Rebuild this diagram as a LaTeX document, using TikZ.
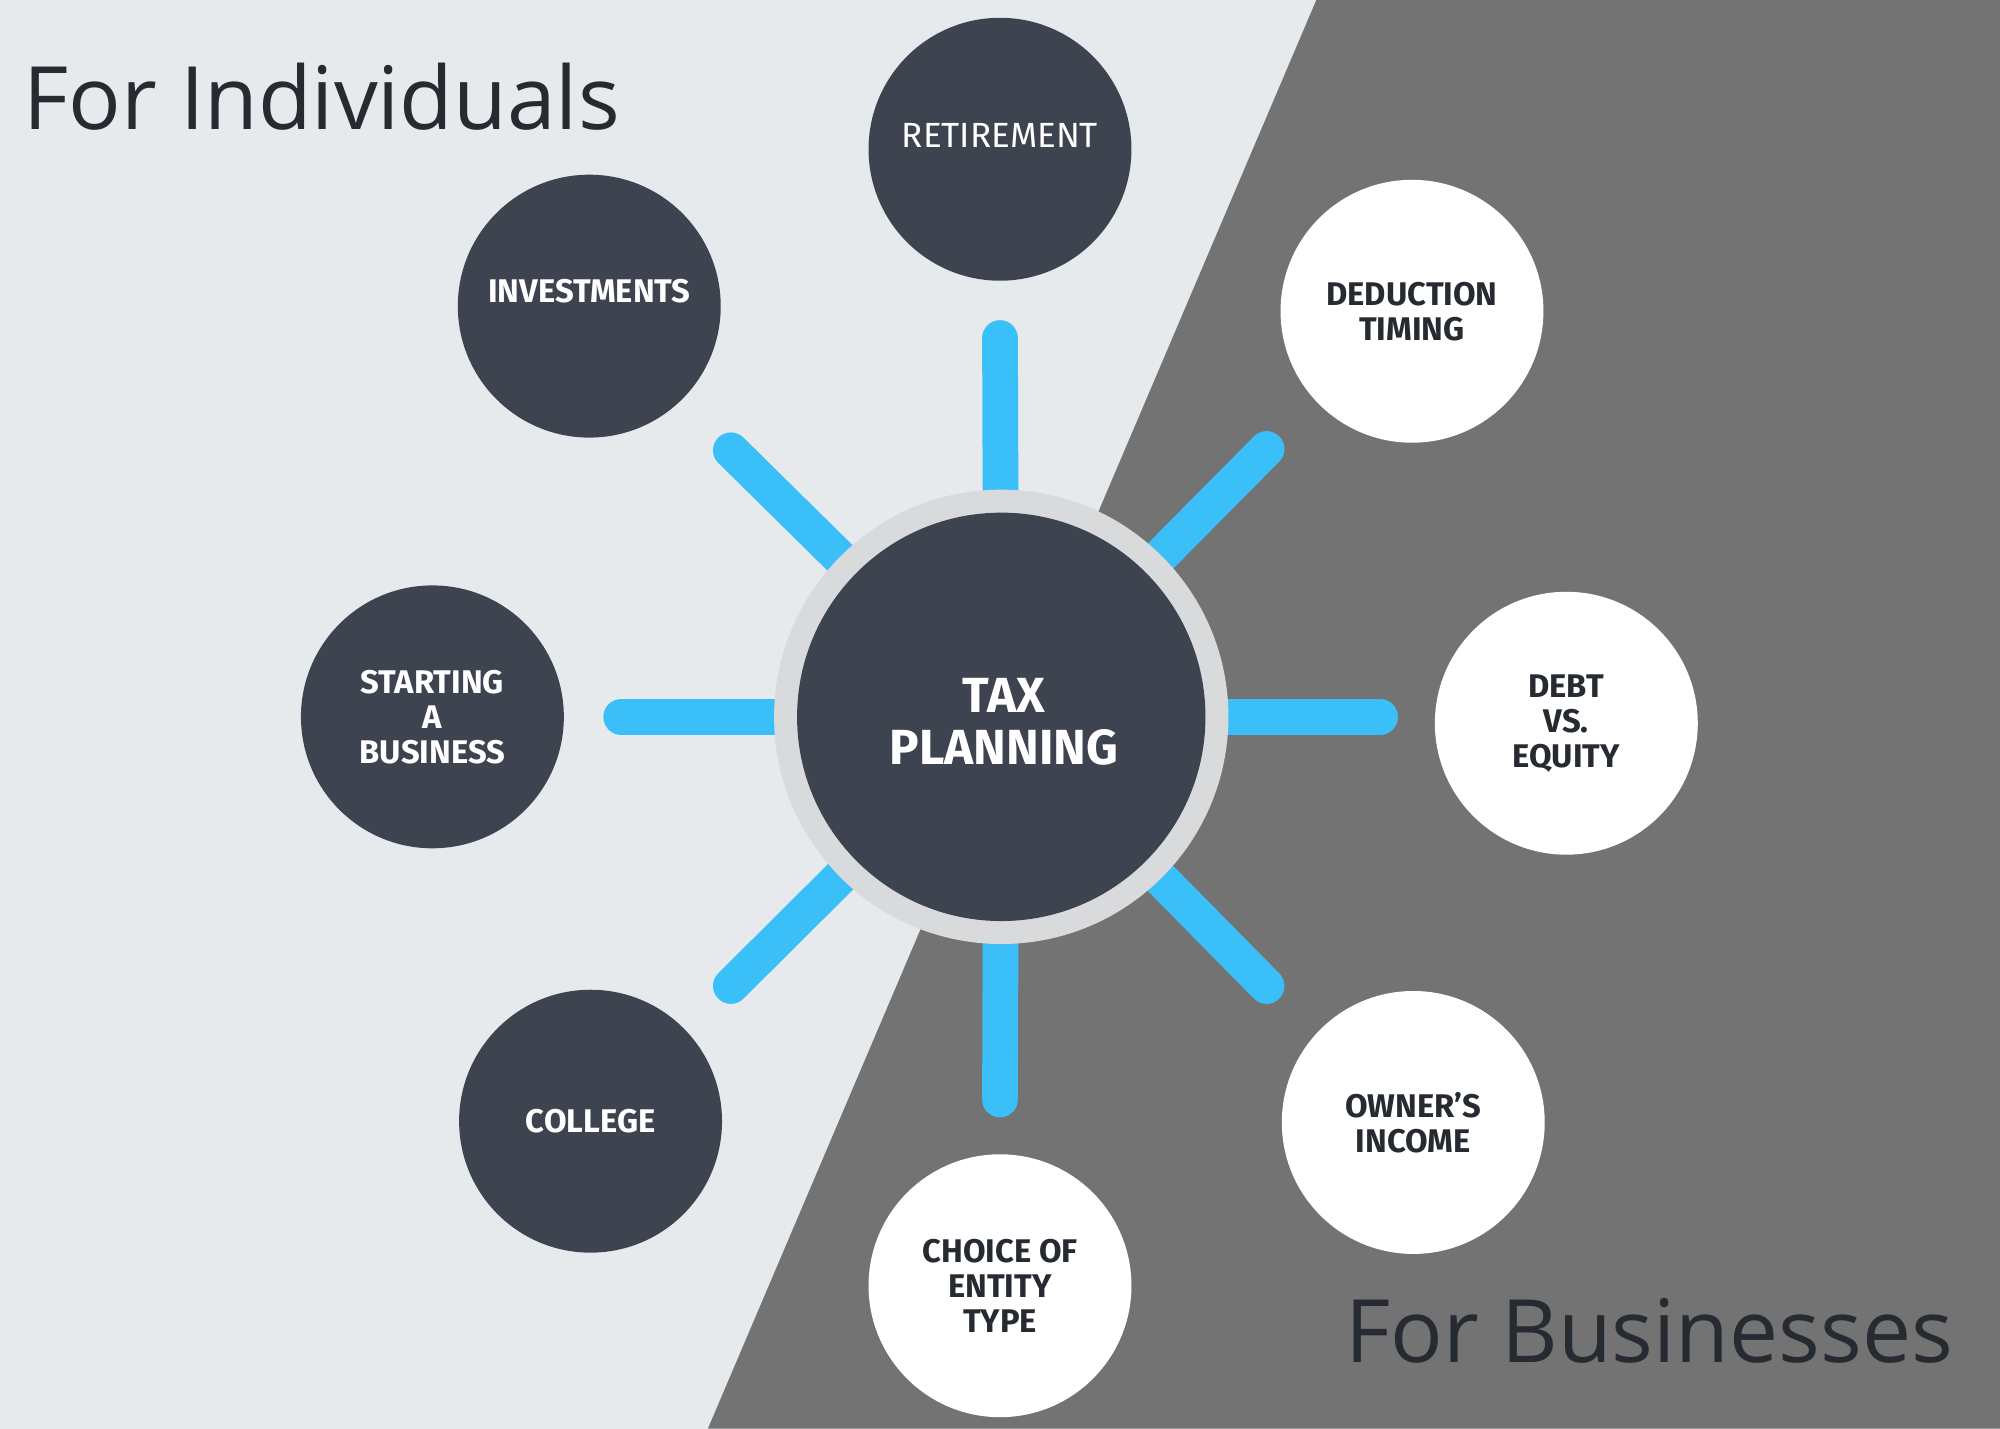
\documentclass[tikz,border=0pt]{standalone}
\usepackage{fontspec}
\setmainfont{Fira Sans}
\newfontfamily\titlefont{Open Sans}
\definecolor{bgl}{HTML}{E6EAED}
\definecolor{bgd}{HTML}{737373}
\definecolor{navy}{HTML}{3E4350}
\definecolor{ttlc}{HTML}{262A31}
\definecolor{ring}{HTML}{D9DADC}
\definecolor{spoke}{HTML}{3BBFF8}
\tikzset{
 sat/.style={circle,minimum size=2.06cm,inner sep=0pt,align=center,font=\bfseries\fontsize{7.3}{7.8}\selectfont},
 darksat/.style={sat,fill=navy,text=white},
 lightsat/.style={sat,fill=white,text=ttlc},
 spk/.style={draw=spoke,line width=0.28cm,line cap=round},
 ttl/.style={anchor=west,text=ttlc,font=\titlefont\fontsize{19.5}{19.5}\selectfont,inner sep=0pt}
}
\begin{document}
\begin{tikzpicture}[x=0.01cm,y=-0.01cm]
\fill[bgl] (0,0) rectangle (1568,1120);
\useasboundingbox (0,0) rectangle (1568,1120);
\fill[bgd] (1032,0) -- (1568,0) -- (1568,1120) -- (555,1120) -- cycle;
\coordinate (c) at (785,562);
\coordinate (s1) at (784,265);
\coordinate (s2) at (487,562);
\coordinate (s3) at (573,353);
\coordinate (s4) at (993,352);
\coordinate (s5) at (573,773);
\coordinate (s6) at (993,773);
\coordinate (s7) at (784,862);
\coordinate (s8) at (1082,562);
\foreach \s in {s1,s2,s3,s4,s5,s6,s7,s8} \draw[spk] (\s) -- (c);
\node[circle,fill=ring,minimum size=3.56cm,inner sep=0pt] (ringn) at (c) {};
\node[circle,fill=navy,minimum size=3.2cm,inner sep=0pt,text=white,align=center,font=\bfseries\fontsize{11}{11.5}\selectfont] (tax) at (c) {};
\node[text=white,align=center,font=\bfseries\fontsize{11}{11.5}\selectfont] (taxt) at (787,566) {TAX\\PLANNING};
\node[circle,fill=navy,minimum size=2.06cm,inner sep=0pt] (ret) at (784,117) {};
\node[text=white,font=\fontsize{7.8}{8}\selectfont] (rett) at (784,106) {RETIREMENT};
\node[darksat] (inv) at (462,240) {};
\node[text=white,font=\bfseries\fontsize{7.3}{7.8}\selectfont] (invt) at (462,228) {INVESTMENTS};
\node[darksat] (start) at (339,562) {STARTING\\A\\BUSINESS};
\node[darksat] (col) at (463,879) {COLLEGE};
\node[lightsat] (choice) at (784,1008) {CHOICE OF\\ENTITY\\TYPE};
\node[lightsat] (own) at (1108,880) {OWNER'S\\INCOME};
\node[lightsat] (debt) at (1228,567) {DEBT\\VS.\\EQUITY};
\node[lightsat] (ded) at (1107,244) {DEDUCTION\\TIMING};
\node[ttl] (ind) at (18,76) {For Individuals};
\node[ttl] (bus) at (1054,1043) {For Businesses};
\end{tikzpicture}
\end{document}
